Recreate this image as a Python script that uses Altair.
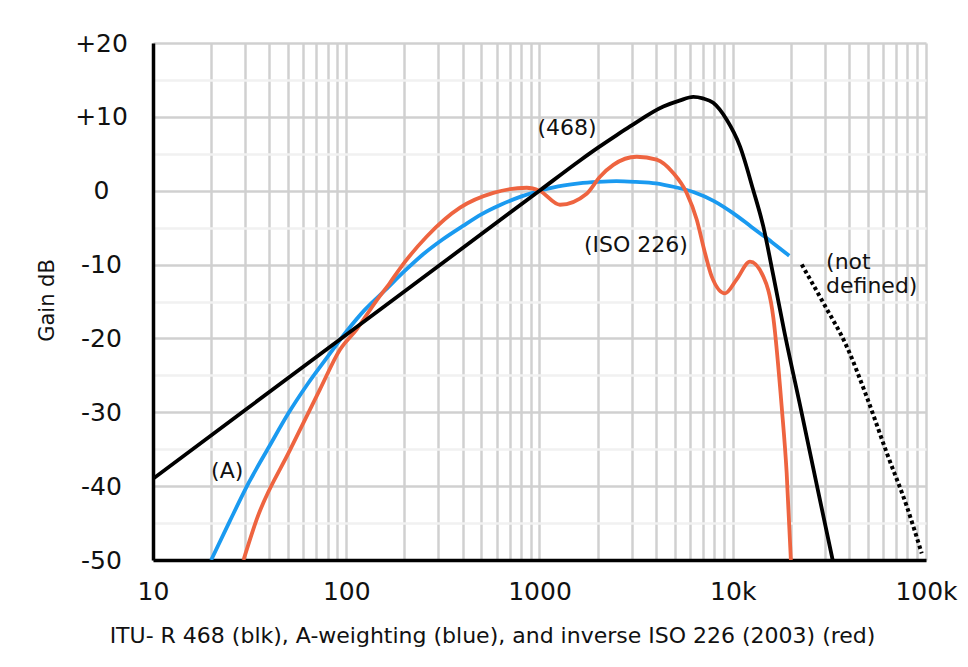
import altair as alt
import pandas as pd

# ---- A-weighting (blue) ----
a_freq = [20, 25, 31.5, 40, 50, 63, 80, 100, 125, 160, 200, 250, 315, 400, 500, 630,
          800, 1000, 1250, 1600, 2000, 2500, 3150, 4000, 5000, 6300, 8000, 10000,
          12500, 16000, 19600]
a_gain = [-50.0, -44.7, -39.4, -34.6, -30.2, -26.2, -22.5, -19.1, -16.1, -13.4, -10.9,
          -8.6, -6.6, -4.8, -3.2, -1.9, -0.8, 0.0, 0.6, 1.0, 1.2, 1.3, 1.2, 1.0, 0.5,
          -0.2, -1.4, -3.0, -4.9, -7.0, -8.8]

# ---- ITU-R 468 (black) ----
k_freq = [10, 100, 1000, 1620, 2000, 2500, 2940, 4375, 5300, 6250, 7000, 7925, 9310,
          10900, 12760, 14380, 16220, 18400, 22700, 27300, 32880]
k_gain = [-39.0, -19.5, 0.0, 4.1, 5.8, 7.5, 8.7, 11.4, 12.2, 12.7, 12.5, 11.9, 9.6,
          6.0, 0.1, -4.8, -11.5, -18.8, -30.0, -40.0, -50.0]

# ---- inverse ISO 226 (red) ----
r_freq = [29.4, 34.4, 51.2, 73.1, 92.9, 113, 144, 168, 190, 261, 388, 577, 859, 1000,
          1276, 1754, 2056, 2410, 3185, 4036, 4921, 5775, 6508, 7178, 7778, 9120,
          10480, 12280, 14380, 16220, 17910, 19010, 19990]
r_gain = [-50.0, -44.5, -35.1, -26.9, -21.5, -18.8, -14.8, -12.5, -10.5, -6.2, -2.3,
          -0.3, 0.4, 0.0, -1.9, -0.4, 1.9, 3.5, 4.6, 4.2, 2.4, -0.3, -3.9, -8.4, -11.6,
          -13.9, -12.0, -9.6, -11.6, -17.2, -29.2, -38.2, -50.0]

# ---- 468 not defined (dotted) ----
d_freq = [22750, 29440, 38900, 49330, 62660, 79430, 95000]
d_gain = [-10.0, -15.2, -21.1, -27.9, -35.5, -42.7, -49.1]

# ---- annotations ----
ann_text = ["(468)", "(ISO 226)", "(A)"]
ann_freq = [1387, 3155, 24.2]
ann_gain = [8.5, -7.3, -38.0]

nd_text = ["(not", "defined)"]
nd_freq = [30400, 30400]
nd_gain = [-9.6, -12.9]

decades = [10, 100, 1000, 10000, 100000]
x_grid = [m * 10 ** e for e in range(1, 5) for m in range(1, 10)] + [100000]
y_grid = list(range(-50, 25, 5))

FONT = "DejaVu Sans"

x_axis = alt.Axis(
    values=x_grid,
    labelExpr="indexof([10,100,1000,10000,100000], datum.value) >= 0 ? "
              "(datum.value >= 10000 ? (datum.value/1000) + 'k' : '' + datum.value) : ''",
    labelOverlap=False, labelFlush=False,
    labelFont=FONT, labelFontSize=25, labelColor="#111111", labelPadding=19,
    ticks=False, tickSize=0,
    domainColor="#000000", domainWidth=3.5,
    gridColor="#d0d0d0", gridWidth=2.5,
    title="ITU- R 468 (blk), A-weighting (blue), and inverse ISO 226 (2003) (red)",
    titleFont=FONT, titleFontSize=22, titleFontWeight="normal", titleColor="#111111",
    titleX=339, titleY=75, titleBaseline="middle", titleAlign="center",
)

y_axis = alt.Axis(
    values=y_grid,
    labelExpr="datum.value % 10 != 0 ? '' : (datum.value > 0 ? '+' + datum.value : '' + datum.value)",
    labelOverlap=False, labelFlush=False,
    labelFont=FONT, labelFontSize=25, labelColor="#111111",
    labelAlign="center", labelBaseline="middle", labelPadding=52,
    ticks=False, tickSize=0,
    domainColor="#000000", domainWidth=3.5,
    gridColor=alt.condition("datum.value % 10 == 0", alt.value("#d0d0d0"), alt.value("#f1f1f1")),
    gridWidth=2.5,
    title="Gain dB",
    titleFont=FONT, titleFontSize=21, titleFontWeight="normal", titleColor="#111111",
    titleAngle=270, titleX=-106, titleY=257, titleBaseline="middle", titleAlign="center",
)

x_scale = alt.Scale(type="log", domain=[10, 100000], nice=False)
y_scale = alt.Scale(domain=[-50, 20], nice=False)


def X():
    return alt.X("freq:Q", scale=x_scale, axis=x_axis)


def Y():
    return alt.Y("gain:Q", scale=y_scale, axis=y_axis)


def df(f, g):
    return pd.DataFrame({"freq": f, "gain": g})


LW = 3.8

blue = alt.Chart(df(a_freq, a_gain)).mark_line(
    color="#1a9af0", strokeWidth=LW, interpolate="monotone", clip=True
).encode(x=X(), y=Y())

red = alt.Chart(df(r_freq, r_gain)).mark_line(
    color="#ee6440", strokeWidth=LW, interpolate="monotone", clip=True
).encode(x=X(), y=Y())

black = alt.Chart(df(k_freq, k_gain)).mark_line(
    color="#000000", strokeWidth=LW, interpolate="monotone", clip=True
).encode(x=X(), y=Y())

dotted = alt.Chart(df(d_freq, d_gain)).mark_line(
    color="#000000", strokeWidth=4, interpolate="monotone", strokeDash=[3.5, 3],
    strokeCap="butt", clip=True
).encode(x=X(), y=Y())

ann_df = pd.DataFrame({"freq": ann_freq, "gain": ann_gain, "label": ann_text})
ann = alt.Chart(ann_df).mark_text(
    font=FONT, fontSize=22, color="#111111", align="center", baseline="middle"
).encode(x=X(), y=Y(), text="label:N")

nd_df = pd.DataFrame({"freq": nd_freq, "gain": nd_gain, "label": nd_text})
nd = alt.Chart(nd_df).mark_text(
    font=FONT, fontSize=22, color="#111111", align="left", baseline="middle"
).encode(x=X(), y=Y(), text="label:N")

chart = alt.layer(blue, red, black, dotted, ann, nd).properties(
    width=773,
    height=517,
    autosize=alt.AutoSizeParams(type="none"),
    padding={"left": 145, "top": 35, "right": 34, "bottom": 95},
    background="white",
).configure_view(stroke=None)

chart.save("out.html", embed_options={"renderer": "svg", "actions": False})
